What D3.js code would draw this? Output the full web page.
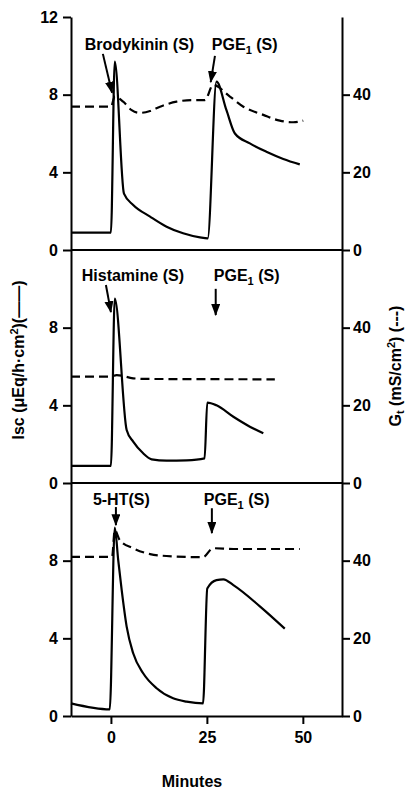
<!DOCTYPE html>
<html>
<head>
<meta charset="utf-8">
<script src="https://cdn.jsdelivr.net/npm/d3@7"></script>
<style>
  html, body { margin: 0; padding: 0; background: #fff; }
  svg { display: block; }
  text { font-family: "Liberation Sans", Arial, sans-serif; font-weight: bold; fill: #000; }
</style>
</head>
<body>
<svg id="chart" width="405" height="789"></svg>
<script>
// Time axis (minutes) and tick labels
const timeDomain = [-10.4, 60.2];
const timeTicks = [0, 25, 50];
const iscTicksTop = [0, 4, 8, 12];
const iscTicks = [0, 4, 8];
const gtTicks = [0, 20, 40];

// Panel 1: bradykinin then PGE1 — [minutes, value]
const bradykininIsc = [[-10.4,0.9],[0,0.9],[1,9.7],[3.4,2.9],[5.8,2.32],[10.2,1.72],[14.5,1.2],[18.8,0.86],[23.2,0.65],[25.2,0.6],[27.5,8.67],[30.1,7.2],[32.3,6.0],[36.2,5.49],[40.5,5.06],[44.9,4.69],[49.2,4.41]];
const bradykininGt = [[-10.4,36.9],[0,36.9],[1,39.5],[3.2,38.2],[5.4,36],[7.5,35.3],[10.2,35.8],[12.8,36.9],[17.1,38.2],[21.4,38.6],[24.5,38.6],[26.6,42.5],[31,39.5],[34.5,36.9],[39.7,34.8],[44,33.3],[47.5,32.9],[50.1,33.3]];

// Panel 2: histamine then PGE1
const histamineIsc = [[-10.4,0.88],[0,0.88],[1,9.5],[4.1,2.73],[5.8,2.13],[8.4,1.53],[10.6,1.22],[14.5,1.15],[19.7,1.17],[24.4,1.27],[25.1,4.14],[27.5,4.0],[31.9,3.41],[36.2,2.9],[39.7,2.56]];
const histamineGt = [[-10.4,27.4],[0,27.4],[1.5,27.8],[5.8,26.96],[9,26.8],[42.7,26.7]];

// Panel 3: 5-HT then PGE1
const serotoninIsc = [[-10.4,0.65],[-0.3,0.34],[1,9.7],[1.9,8.03],[2.8,6.49],[4.1,4.6],[5.8,3.23],[8.4,2.2],[11.9,1.43],[16.2,0.91],[19.7,0.74],[24,0.65],[25.1,6.57],[27.5,7.0],[29.3,7.04],[31.9,6.74],[38.8,5.65],[45.3,4.5]];
const serotoninGt = [[-10.4,41.0],[0.3,41.0],[1,47.9],[2.3,45.3],[5.8,43.2],[10.2,41.7],[14.5,41.2],[24,40.9],[26.6,43.2],[31.9,43.0],[49.2,43.0]];

// Agent labels: [name, text start (min), baseline Isc]
const bradykininLabels = [["Brodykinin (S)", -6.8, 10.3], ["PGE|1| (S)", 26.3, 10.3]];
const histamineLabels  = [["Histamine (S)", -7.6, 10.4], ["PGE|1| (S)", 26.8, 10.4]];
const serotoninLabels  = [["5-HT(S)", -4.7, 10.85], ["PGE|1| (S)", 24.2, 10.85]];

// Arrows: [from min, from Isc, to min, to Isc]
const bradykininArrows = [[-2.1,10.1,0.3,8.1],[27.1,10.0,26.0,8.65]];
const histamineArrows  = [[-1.3,10.2,0,8.8],[27.3,10.0,27.3,8.65]];
const serotoninArrows  = [[1.3,10.76,1.3,9.83],[26.3,10.7,26.3,9.42]];

const panels = [
  { isc: bradykininIsc, gt: bradykininGt, labels: bradykininLabels, arrows: bradykininArrows, iscTicks: iscTicksTop, top: 17 },
  { isc: histamineIsc, gt: histamineGt, labels: histamineLabels, arrows: histamineArrows, iscTicks: iscTicks, top: 250 },
  { isc: serotoninIsc, gt: serotoninGt, labels: serotoninLabels, arrows: serotoninArrows, iscTicks: iscTicks, top: 483 }
];

const svg = d3.select("#chart");
const left = 71, right = 342, panelH = 233;
const x = d3.scaleLinear().domain(timeDomain).range([left, right]);

svg.append("defs").append("marker")
  .attr("id", "head")
  .attr("markerUnits", "userSpaceOnUse")
  .attr("markerWidth", 12).attr("markerHeight", 10)
  .attr("refX", 11).attr("refY", 4.5)
  .attr("orient", "auto")
  .append("path").attr("d", "M0,0 L12,4.5 L0,9 Z").attr("fill", "#000");

function styleAxis(g) {
  g.selectAll("path, line").attr("stroke", "#000").attr("stroke-width", 2);
  g.selectAll("text").style("font-size", "16px").style("font-family", "'Liberation Sans', Arial, sans-serif").style("font-weight", "bold");
}

panels.forEach((p, i) => {
  const y = d3.scaleLinear().domain([0, 12]).range([p.top + panelH, p.top]);
  const yG = d3.scaleLinear().domain([0, 60]).range([p.top + panelH, p.top]);
  const g = svg.append("g");

  // Left Isc axis
  g.append("g").attr("transform", `translate(${left},0)`)
    .call(d3.axisLeft(y).tickValues(p.iscTicks).tickFormat(d3.format("d")).tickSize(8).tickSizeOuter(0).tickPadding(5))
    .call(styleAxis);

  // Right Gt axis
  g.append("g").attr("transform", `translate(${right},0)`)
    .call(d3.axisRight(yG).tickValues(gtTicks).tickFormat(d3.format("d")).tickSize(8).tickSizeOuter(0).tickPadding(3))
    .call(styleAxis);

  // Baseline / time axis
  if (i === panels.length - 1) {
    g.append("g").attr("transform", `translate(0,${y(0)})`)
      .call(d3.axisBottom(x).tickValues(timeTicks).tickFormat(d3.format("d")).tickSize(8).tickSizeOuter(0).tickPadding(8))
      .call(styleAxis);
  } else {
    g.append("line").attr("x1", left).attr("x2", right)
      .attr("y1", y(0)).attr("y2", y(0))
      .attr("stroke", "#000").attr("stroke-width", 2);
  }

  // Isc (solid) and Gt (dashed)
  const lineI = d3.line().x(d => x(d[0])).y(d => y(d[1])).curve(d3.curveMonotoneX);
  const lineG = d3.line().x(d => x(d[0])).y(d => yG(d[1])).curve(d3.curveMonotoneX);
  g.append("path").attr("d", lineI(p.isc)).attr("fill", "none")
    .attr("stroke", "#000").attr("stroke-width", 2.2).attr("stroke-linejoin", "round");
  g.append("path").attr("d", lineG(p.gt)).attr("fill", "none")
    .attr("stroke", "#000").attr("stroke-width", 2.2).attr("stroke-dasharray", "9,5");

  // Agent labels (PGE|1| → subscript 1)
  p.labels.forEach(([txt, t, v]) => {
    const el = g.append("text").attr("x", x(t)).attr("y", y(v)).style("font-size", "16px");
    const parts = txt.split("|");
    parts.forEach((s, k) => {
      if (k === 1) {
        el.append("tspan").attr("dy", 4).style("font-size", "11px").text(s);
      } else if (k === 2) {
        el.append("tspan").attr("dy", -4).text(s);
      } else {
        el.append("tspan").text(s);
      }
    });
  });

  // Arrows
  p.arrows.forEach(([t0, v0, t1, v1]) => {
    g.append("line")
      .attr("x1", x(t0)).attr("y1", y(v0))
      .attr("x2", x(t1)).attr("y2", y(v1))
      .attr("stroke", "#000").attr("stroke-width", 2)
      .attr("marker-end", "url(#head)");
  });
});

// Axis titles
svg.append("text")
  .attr("transform", "translate(24,360) rotate(-90)")
  .attr("text-anchor", "middle")
  .style("font-size", "16px")
  .call(t => {
    t.append("tspan").text("Isc (μEq/h·cm");
    t.append("tspan").attr("dy", -6).style("font-size", "11px").text("2");
    t.append("tspan").attr("dy", 6).text(")(——)");
  });

svg.append("text")
  .attr("transform", "translate(401,366) rotate(-90)")
  .attr("text-anchor", "middle")
  .style("font-size", "16px")
  .call(t => {
    t.append("tspan").text("G");
    t.append("tspan").attr("dy", 3).style("font-size", "11px").text("t");
    t.append("tspan").attr("dy", -3).text(" (mS/cm");
    t.append("tspan").attr("dy", -6).style("font-size", "11px").text("2");
    t.append("tspan").attr("dy", 6).text(") (---)");
  });

svg.append("text")
  .attr("x", 192).attr("y", 787)
  .attr("text-anchor", "middle")
  .style("font-size", "16px")
  .text("Minutes");
</script>
</body>
</html>
